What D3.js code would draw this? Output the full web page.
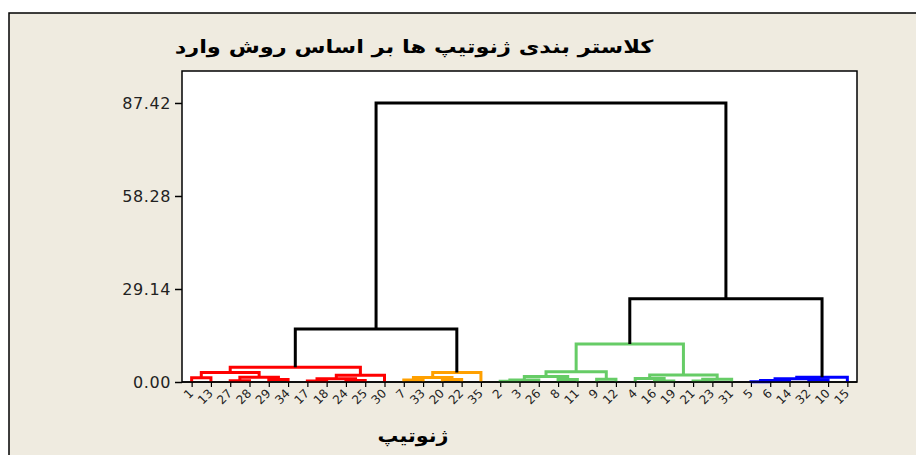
<!DOCTYPE html>
<html>
<head>
<meta charset="utf-8">
<script src="https://cdn.jsdelivr.net/npm/d3@7"></script>
<style>
  body { margin: 0; background: #fff; }
  svg { display: block; }
</style>
</head>
<body>
<div id="chart"></div>
<script>
// leaf order along the x axis
const leaves = [1, 13, 27, 28, 29, 34, 17, 18, 24, 25, 30, 7, 33, 20, 22, 35,
  2, 3, 26, 8, 11, 9, 12, 4, 16, 19, 21, 23, 31, 5, 6, 14, 32, 10, 15];

// merges: [node, left, right, distance, group]
const merges = [
  ["a1", "1", "13", 1.3, "red"],
  ["a2", "27", "28", 0.4, "red"],
  ["a3", "29", "34", 0.8, "red"],
  ["a4", "a2", "a3", 1.5, "red"],
  ["a5", "a1", "a4", 3.0, "red"],
  ["a6", "17", "18", 0.3, "red"],
  ["a7", "24", "25", 0.5, "red"],
  ["a8", "a6", "a7", 1.0, "red"],
  ["a9", "a8", "30", 2.1, "red"],
  ["a10", "a5", "a9", 4.6, "red"],
  ["b1", "7", "33", 0.6, "orange"],
  ["b2", "20", "22", 0.8, "orange"],
  ["b3", "b1", "b2", 1.4, "orange"],
  ["b4", "b3", "35", 3.0, "orange"],
  ["c1", "2", "3", 0.2, "green"],
  ["c2", "c1", "26", 0.6, "green"],
  ["c3", "8", "11", 0.8, "green"],
  ["c4", "c2", "c3", 1.7, "green"],
  ["c5", "9", "12", 0.9, "green"],
  ["c6", "c4", "c5", 3.2, "green"],
  ["c7", "16", "19", 0.3, "green"],
  ["c8", "4", "c7", 1.1, "green"],
  ["c9", "21", "23", 0.3, "green"],
  ["c10", "c9", "31", 0.9, "green"],
  ["c11", "c8", "c10", 2.2, "green"],
  ["c12", "c6", "c11", 11.9, "green"],
  ["d1", "5", "6", 0.1, "blue"],
  ["d2", "d1", "14", 0.5, "blue"],
  ["d3", "32", "10", 0.7, "blue"],
  ["d4", "d2", "d3", 1.0, "blue"],
  ["d5", "d4", "15", 1.5, "blue"],
  ["e1", "a10", "b4", 16.6, "black"],
  ["e2", "c12", "d5", 26.1, "black"],
  ["e3", "e1", "e2", 87.42, "black"]
];

const yTicks = [0, 29.14, 58.28, 87.42];
const yMax = 97.44;

const title = "کلاستر بندی ژنوتیپ ها بر اساس روش وارد";
const xTitle = "ژنوتیپ";

const groupColour = {
  red: "#ff0000",
  orange: "#ffa000",
  green: "#66cc66",
  blue: "#0000ff",
  black: "#000000"
};

// draw bold text centred on cx and stretched to a given width
function fitText(svg, str, cx, cy, size, w) {
  const t = svg.append("text")
    .attr("text-anchor", "middle")
    .attr("direction", "rtl")
    .style("font-family", "DejaVu Sans")
    .style("font-weight", "bold")
    .style("font-size", size + "px")
    .text(str);
  const k = w / t.node().getComputedTextLength();
  t.attr("transform", `translate(${cx},${cy}) scale(${k},1)`);
  return t;
}

function art() {
  const width = 916, height = 455;
  const box = { left: 182, right: 857, top: 71, bottom: 382 };

  const svg = d3.select("#chart").append("svg")
    .attr("width", width)
    .attr("height", height);

  // outer frame
  svg.append("rect")
    .attr("x", 9).attr("y", 13)
    .attr("width", width + 20).attr("height", height + 20)
    .attr("fill", "#efebe0")
    .attr("stroke", "#000").attr("stroke-width", 1.5);

  // plot box
  svg.append("rect")
    .attr("x", box.left).attr("y", box.top)
    .attr("width", box.right - box.left).attr("height", box.bottom - box.top)
    .attr("fill", "#fff")
    .attr("stroke", "#000").attr("stroke-width", 1.5);

  const x = d3.scalePoint()
    .domain(leaves.map(String))
    .range([box.left, box.right])
    .padding(0.5);

  const y = d3.scaleLinear()
    .domain([0, yMax])
    .range([box.bottom, box.top]);

  // y axis
  const yAxis = svg.append("g")
    .attr("transform", `translate(${box.left},0)`)
    .call(d3.axisLeft(y).tickValues(yTicks).tickFormat(d3.format(".2f")).tickSize(7).tickPadding(4));
  yAxis.select(".domain").remove();
  yAxis.selectAll("line").attr("stroke-width", 1.5);
  yAxis.selectAll("text")
    .style("font-family", "DejaVu Sans")
    .style("font-size", "16px")
    .style("letter-spacing", "0.6px")
    .attr("fill", "#222");

  // x axis
  const xAxis = svg.append("g")
    .attr("transform", `translate(0,${box.bottom})`)
    .call(d3.axisBottom(x).tickSize(5));
  xAxis.select(".domain").remove();
  xAxis.selectAll("line").attr("stroke-width", 1.2);
  xAxis.selectAll("text")
    .style("font-family", "DejaVu Sans")
    .style("font-size", "12px")
    .attr("fill", "#222")
    .attr("text-anchor", "end")
    .attr("x", 0).attr("y", 0)
    .attr("dy", "0.72em")
    .attr("transform", "translate(-4,6) rotate(-45)");

  // node positions
  const pos = {};
  leaves.forEach(l => { pos[String(l)] = { x: x(String(l)), h: 0 }; });
  merges.forEach(([id, a, b, h]) => {
    pos[id] = { x: (pos[a].x + pos[b].x) / 2, h: h };
  });

  svg.append("g").selectAll("path")
    .data(merges)
    .enter()
    .append("path")
    .attr("d", ([id, a, b, h]) => {
      const p = pos[a], q = pos[b];
      return `M${p.x},${y(p.h)}V${y(h)}H${q.x}V${y(q.h)}`;
    })
    .attr("fill", "none")
    .attr("stroke", d => groupColour[d[4]])
    .attr("stroke-width", 3)
    .attr("stroke-linejoin", "miter");

  // redraw bottom edge over the links
  svg.append("line")
    .attr("x1", box.left).attr("x2", box.right)
    .attr("y1", box.bottom).attr("y2", box.bottom)
    .attr("stroke", "#000").attr("stroke-width", 1.5);

  // titles
  fitText(svg, title, 414, 53, 18, 479);
  fitText(svg, xTitle, 413, 442, 18, 71);
}

window.onload = function () {
  art();
};
</script>
</body>
</html>
